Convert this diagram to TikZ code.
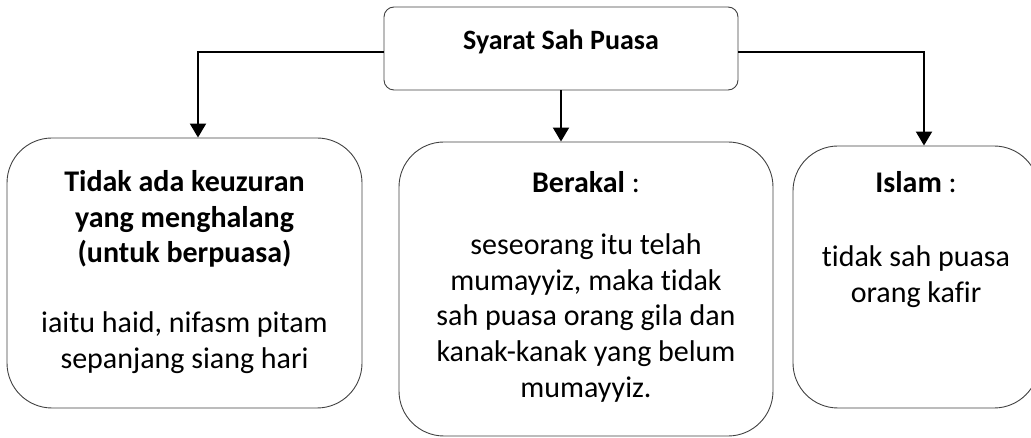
\documentclass[tikz,border=0pt]{standalone}
\usepackage{fontspec}
\setmainfont{Carlito}[Ligatures=NoCommon]
\usetikzlibrary{positioning,arrows.meta}
\tikzset{
  sahbox/.style={draw=black!75, line width=0.9pt, rounded corners=45pt, inner sep=0pt},
  sahtext/.style={align=center, inner sep=0pt, font=\fontsize{30}{35.7}\selectfont},
  sahlink/.style={draw, line width=2pt, -{Triangle[width=16pt,length=14pt]}},
}

\begin{document}
\begin{tikzpicture}[x=1pt, y=-1pt]
  \useasboundingbox (0,0) rectangle (1031,438);
  \clip (0,0) rectangle (1031,438);
  \node[sahbox, rounded corners=10pt, minimum width=354pt, minimum height=83pt] (syarat) at (561,48.5) {};
  \node[sahbox, minimum width=355pt, minimum height=270pt] (keuzuran) at (184.5,273) {};
  \node[sahbox, minimum width=374pt, minimum height=294pt] (berakal) at (586,289) {};
  \node[sahbox, minimum width=246pt, minimum height=262pt] (islam) at (916,277) {};
  \node[sahtext, font=\fontsize{28}{34}\selectfont, below=23.2pt of syarat.north] (syaratlabel) {\textbf{Syarat Sah Puasa}};
  \node[sahtext, below=32.7pt of keuzuran.north] (keuzuranlabel) {\textbf{Tidak ada keuzuran}\\\textbf{yang menghalang}\\\textbf{(untuk berpuasa)}\\[34.3pt]iaitu haid, nifasm pitam\\sepanjang siang hari};
  \node[sahtext, below=29.7pt of berakal.north] (berakallabel) {\textbf{Berakal} :\\[26.3pt]seseorang itu telah\\mumayyiz, maka tidak\\sah puasa orang gila dan\\kanak-kanak yang belum\\mumayyiz.};
  \node[sahtext, below=25.7pt of islam.north] (islamlabel) {\textbf{Islam} :\\[38.3pt]tidak sah puasa\\orang kafir};
  \draw[sahlink] ([yshift=-3.5pt]syarat.west) -| ([xshift=13.5pt]keuzuran.north);
  \draw[sahlink] (syarat.south) -- (syarat.south |- berakal.north);
  \draw[sahlink] ([yshift=-3.5pt]syarat.east) -| ([xshift=8pt]islam.north);
\end{tikzpicture}
\end{document}
